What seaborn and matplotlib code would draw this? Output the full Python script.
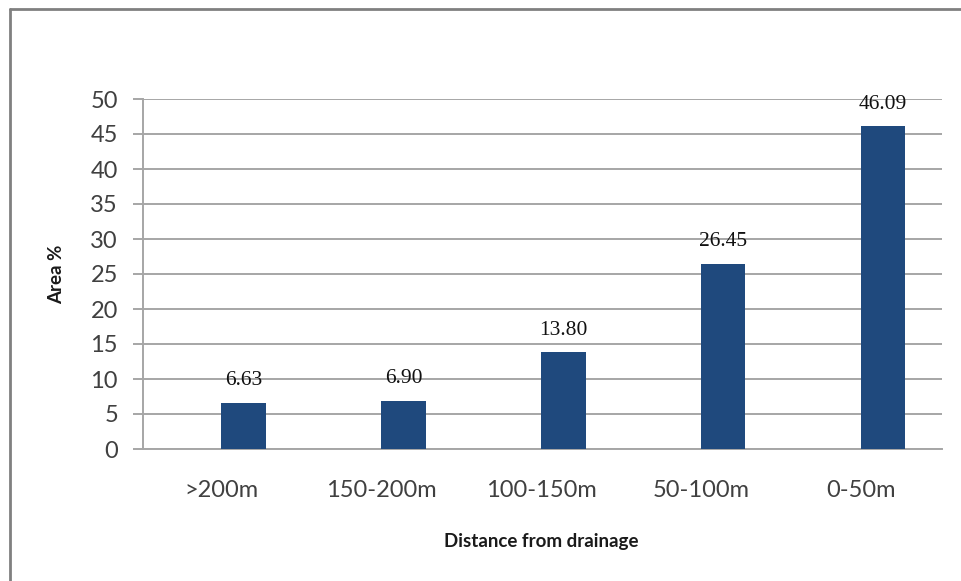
import matplotlib
matplotlib.use("Agg")
import matplotlib.pyplot as plt
from matplotlib.lines import Line2D
import seaborn as sns
import pandas as pd

# Share of area by distance band from the drainage network
categories = [">200m", "150-200m", "100-150m", "50-100m", "0-50m"]
area_pct = [6.63, 6.90, 13.80, 26.45, 46.09]
y_ticks = [0, 5, 10, 15, 20, 25, 30, 35, 40, 45, 50]

df = pd.DataFrame({"distance": categories, "area": area_pct})

sns.set_style("white")
plt.rcParams["font.family"] = ["Lato", "DejaVu Sans"]

fig = plt.figure(figsize=(9.62, 5.81), dpi=100)
ax = fig.add_axes([143 / 962, 1 - 449 / 581, 799 / 962, 350 / 581])

bar_color = "#1f497d"
sns.barplot(data=df, x="distance", y="area", color=bar_color, width=0.28,
            saturation=1, ax=ax, zorder=3)

# bars sit slightly right of their category label
shift = 0.14
for p in ax.patches:
    p.set_x(p.get_x() + shift)
    p.set_edgecolor("none")

# value labels above each bar
for p, v in zip(ax.patches, area_pct):
    ax.annotate(f"{v:.2f}", (p.get_x() + p.get_width() / 2, v),
                xytext=(0, 16), textcoords="offset points",
                ha="center", va="center", fontsize=15.5,
                family="Liberation Serif", color="#111111")

ax.set_xlim(-0.49, 4.51)
ax.set_ylim(0, 50)
ax.set_yticks(y_ticks)
ax.grid(axis="y", color="#a6a6a6", linewidth=1.4, zorder=0)
ax.grid(axis="x", visible=False)

for side in ("top", "right"):
    ax.spines[side].set_visible(False)
for side in ("left", "bottom"):
    ax.spines[side].set_color("#a6a6a6")
    ax.spines[side].set_linewidth(1.4)

ax.tick_params(axis="y", length=7, width=1.4, color="#a6a6a6", pad=11,
               labelsize=17, labelcolor="#404040", left=True)
ax.tick_params(axis="x", length=0, pad=22, labelsize=17, labelcolor="#404040")

ax.set_xlabel("Distance from drainage", fontsize=13.5, fontweight="bold",
              color="#1a1a1a")
ax.set_ylabel("Area %", fontsize=13.5, fontweight="bold", color="#1a1a1a")
ax.xaxis.label.set_va("center")
ax.yaxis.label.set_va("center")
ax.xaxis.set_label_coords(0.498, -0.263)
ax.yaxis.set_label_coords(-0.1076, 0.5)

# chart frame (left and top edges)
fig.add_artist(Line2D([9.5 / 962, 9.5 / 962], [0, 1 - 9 / 581],
                      transform=fig.transFigure, color="#808080", linewidth=2))
fig.add_artist(Line2D([9.5 / 962, 1], [1 - 9 / 581, 1 - 9 / 581],
                      transform=fig.transFigure, color="#808080", linewidth=2))

fig.savefig("out.png", dpi=100)
